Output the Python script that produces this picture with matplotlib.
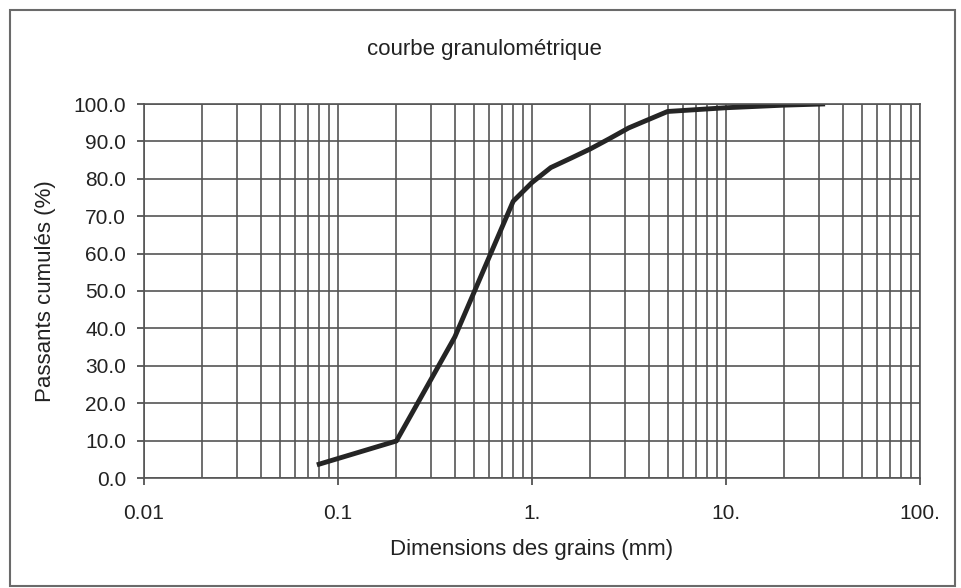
import matplotlib
matplotlib.use("Agg")
import matplotlib.pyplot as plt
import matplotlib.ticker as mticker
from matplotlib.patches import Rectangle

# sieve sizes (mm) and cumulative passing (%)
sizes = [0.08, 0.2, 0.4, 0.8, 1.0, 1.25, 1.6, 2.0, 2.5, 3.15, 5.0, 10.0, 20.0, 31.5]
passing = [3.7, 9.9, 37.7, 74.0, 79.0, 83.0, 85.6, 88.0, 90.7, 93.6, 98.0, 99.0, 99.7, 100.0]

x_ticks = [0.01, 0.1, 1, 10, 100]
x_tick_labels = ["0.01", "0.1", "1.", "10.", "100."]
y_ticks = [0, 10, 20, 30, 40, 50, 60, 70, 80, 90, 100]
y_tick_labels = ["%.1f" % v for v in y_ticks]

plt.rcParams["font.family"] = ["Liberation Sans", "DejaVu Sans"]
txt = "#222222"
grid_c = "#555555"

fig = plt.figure(figsize=(9.62, 5.88), dpi=100)
ax = fig.add_axes([144 / 962, 1 - 478 / 588, (920 - 144) / 962, (478 - 104) / 588])

# outer frame of the chart area
fig.patches.append(Rectangle((10 / 962, 2 / 588), 945 / 962, 576 / 588,
                             transform=fig.transFigure, fill=False,
                             edgecolor="#6a6a6a", linewidth=1.5))

ax.plot(sizes, passing, color="#252525", linewidth=3.5, solid_joinstyle="round")

ax.set_xscale("log")
ax.set_xlim(0.01, 100)
ax.set_ylim(0, 100)
ax.set_xticks(x_ticks)
ax.set_xticklabels(x_tick_labels)
ax.xaxis.set_minor_locator(mticker.LogLocator(base=10, subs=range(2, 10)))
ax.xaxis.set_minor_formatter(mticker.NullFormatter())
ax.set_yticks(y_ticks)
ax.set_yticklabels(y_tick_labels)

ax.grid(True, which="both", axis="x", color=grid_c, linewidth=1.2)
ax.grid(True, which="major", axis="y", color=grid_c, linewidth=1.2)
ax.set_axisbelow(True)

ax.tick_params(axis="both", which="major", direction="out", length=5,
               width=1.2, color="#444444", labelsize=15, labelcolor=txt)
ax.tick_params(axis="x", which="major", pad=14)
ax.tick_params(axis="y", which="major", pad=8)
ax.tick_params(axis="x", which="minor", length=0)
for s in ax.spines.values():
    s.set_color("#555555")
    s.set_linewidth(1.2)

fig.text(484 / 962, 1 - 50 / 588, "courbe granulométrique", fontsize=16,
         color=txt, ha="center", va="center")
fig.text(532 / 962, 1 - 549 / 588, "Dimensions des grains (mm)", fontsize=16,
         color=txt, ha="center", va="center")
fig.text(46 / 962, 1 - 291 / 588, "Passants cumulés (%)", fontsize=16,
         color=txt, ha="center", va="center", rotation=90)

fig.savefig("out.png", dpi=100)
